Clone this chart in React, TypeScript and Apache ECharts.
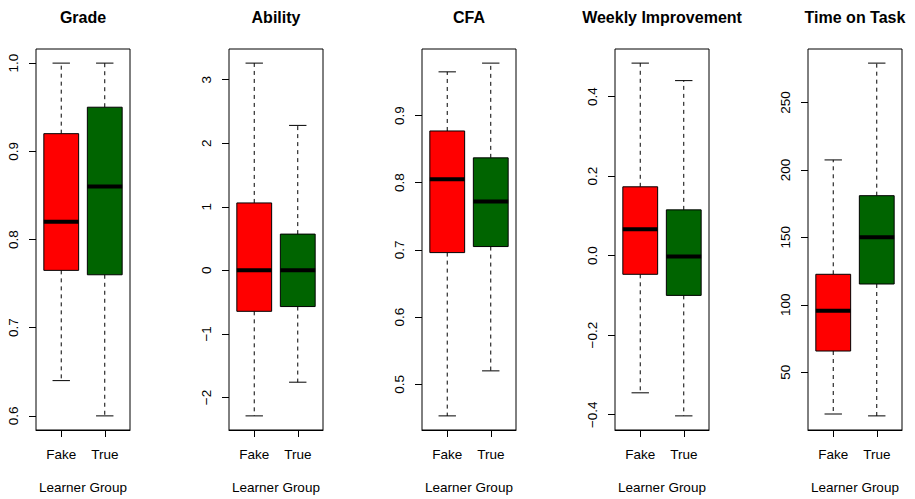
import React, { useEffect, useRef } from 'react';
import * as echarts from 'echarts';

const categories = ['Fake', 'True'];
const panelTitles = ['Grade', 'Ability', 'CFA', 'Weekly Improvement', 'Time on Task'];
const xAxisName = 'Learner Group';

// Five-number summaries: [lower whisker, Q1, median, Q3, upper whisker]
const gradeFake = [0.64, 0.765, 0.82, 0.92, 1.0];
const gradeTrue = [0.6, 0.76, 0.86, 0.95, 1.0];
const abilityFake = [-2.29, -0.645, 0.0, 1.06, 3.26];
const abilityTrue = [-1.76, -0.57, 0.0, 0.57, 2.28];
const cfaFake = [0.453, 0.696, 0.805, 0.877, 0.965];
const cfaTrue = [0.52, 0.705, 0.772, 0.837, 0.978];
const weeklyFake = [-0.345, -0.047, 0.066, 0.173, 0.484];
const weeklyTrue = [-0.403, -0.1, -0.002, 0.115, 0.44];
const timeFake = [19, 65.7, 95.6, 122.6, 207.4];
const timeTrue = [17.6, 115.4, 150, 180.9, 279.2];

// Y tick values and labels
const gradeTicks = [0.6, 0.7, 0.8, 0.9, 1.0];
const gradeTickLabels = ['0.6', '0.7', '0.8', '0.9', '1.0'];
const abilityTicks = [-2, -1, 0, 1, 2, 3];
const abilityTickLabels = ['\u22122', '\u22121', '0', '1', '2', '3'];
const cfaTicks = [0.5, 0.6, 0.7, 0.8, 0.9];
const cfaTickLabels = ['0.5', '0.6', '0.7', '0.8', '0.9'];
const weeklyTicks = [-0.4, -0.2, 0.0, 0.2, 0.4];
const weeklyTickLabels = ['\u22120.4', '\u22120.2', '0.0', '0.2', '0.4'];
const timeTicks = [50, 100, 150, 200, 250];
const timeTickLabels = ['50', '100', '150', '200', '250'];

const panelStats = [
  [gradeFake, gradeTrue],
  [abilityFake, abilityTrue],
  [cfaFake, cfaTrue],
  [weeklyFake, weeklyTrue],
  [timeFake, timeTrue],
];
const panelTicks = [gradeTicks, abilityTicks, cfaTicks, weeklyTicks, timeTicks];
const panelTickLabels = [gradeTickLabels, abilityTickLabels, cfaTickLabels, weeklyTickLabels, timeTickLabels];

// Layout / style
const fills = ['#FF0000', '#006400'];
const gridLefts = [36, 229, 422, 615, 808];
const gridWidth = 94;
const gridTop = 49;
const gridHeight = 384;
const boxWidth = 0.8;
const stapleRatio = 0.5;
const FONT = '"Liberation Sans", Arial, Helvetica, sans-serif';
const AXIS_FONT_SIZE = 13.5;

export default function App() {
  const ref = useRef<HTMLDivElement>(null);

  useEffect(() => {
    if (!ref.current) return;
    const chart = echarts.init(ref.current, null, { renderer: 'svg' });

    const grids: any[] = [];
    const xAxes: any[] = [];
    const yAxes: any[] = [];
    const series: any[] = [];
    const graphics: any[] = [];

    panelStats.forEach((stats, i) => {
      grids.push({
        left: gridLefts[i],
        top: gridTop,
        width: gridWidth,
        height: gridHeight,
        show: true,
        borderColor: '#000',
        borderWidth: 1,
        backgroundColor: 'transparent',
        containLabel: false,
      });

      const catPos = categories.map((_, j) => j + 1);
      xAxes.push({
        type: 'value',
        gridIndex: i,
        min: 0.42,
        max: 2.58,
        axisLine: { show: true, onZero: false, lineStyle: { color: '#000', width: 1 } },
        splitLine: { show: false },
        axisTick: {
          show: true,
          customValues: catPos,
          length: 7,
          inside: false,
          lineStyle: { color: '#000', width: 1 },
        },
        axisLabel: {
          show: true,
          customValues: catPos,
          formatter: (v: number) => categories[Math.round(v) - 1] ?? '',
          margin: 17,
          color: '#000',
          fontSize: AXIS_FONT_SIZE,
          fontFamily: FONT,
        },
        name: xAxisName,
        nameLocation: 'middle',
        nameGap: 50,
        nameTextStyle: { color: '#000', fontSize: AXIS_FONT_SIZE, fontFamily: FONT },
      });

      const all = stats.flat();
      const dmin = Math.min(...all);
      const dmax = Math.max(...all);
      const ext = (dmax - dmin) * 0.04;
      const ticks = panelTicks[i];
      const labels = panelTickLabels[i];
      yAxes.push({
        type: 'value',
        gridIndex: i,
        min: dmin - ext,
        max: dmax + ext,
        axisLine: { show: false, onZero: false },
        splitLine: { show: false },
        axisTick: {
          show: true,
          customValues: ticks,
          length: 7,
          inside: false,
          lineStyle: { color: '#000', width: 1 },
        },
        axisLabel: {
          show: true,
          customValues: ticks,
          rotate: 90,
          formatter: (v: number) => {
            const k = ticks.findIndex((t) => Math.abs(t - v) < 1e-9);
            return k >= 0 ? labels[k] : '';
          },
          margin: 16,
          color: '#000',
          fontSize: AXIS_FONT_SIZE,
          fontFamily: FONT,
        },
      });

      series.push({
        type: 'custom',
        xAxisIndex: i,
        yAxisIndex: i,
        clip: false,
        encode: { x: 0, y: [1, 2, 3, 4, 5] },
        data: stats.map((s, j) => [j + 1, ...s]),
        renderItem: (params: any, api: any) => {
          const x = api.value(0);
          const vMin = api.value(1);
          const q1 = api.value(2);
          const med = api.value(3);
          const q3 = api.value(4);
          const vMax = api.value(5);
          const [cx, pMin] = api.coord([x, vMin]);
          const pQ1 = api.coord([x, q1])[1];
          const pMed = api.coord([x, med])[1];
          const pQ3 = api.coord([x, q3])[1];
          const pMax = api.coord([x, vMax])[1];
          const halfW = api.size([boxWidth, 0])[0] / 2;
          const sHalf = halfW * stapleRatio;
          const color = fills[params.dataIndex % fills.length];
          const dashed = { stroke: '#000', lineWidth: 1, lineDash: [4, 4] };
          const solid = { stroke: '#000', lineWidth: 1 };
          return {
            type: 'group',
            children: [
              { type: 'line', shape: { x1: cx, y1: pQ3, x2: cx, y2: pMax }, style: dashed },
              { type: 'line', shape: { x1: cx, y1: pQ1, x2: cx, y2: pMin }, style: dashed },
              { type: 'line', shape: { x1: cx - sHalf, y1: pMax, x2: cx + sHalf, y2: pMax }, style: solid },
              { type: 'line', shape: { x1: cx - sHalf, y1: pMin, x2: cx + sHalf, y2: pMin }, style: solid },
              {
                type: 'rect',
                shape: { x: cx - halfW, y: pQ3, width: 2 * halfW, height: pQ1 - pQ3 },
                style: { fill: color, stroke: '#000', lineWidth: 1 },
              },
              {
                type: 'line',
                shape: { x1: cx - halfW, y1: pMed, x2: cx + halfW, y2: pMed },
                style: { stroke: '#000', lineWidth: 4 },
              },
            ],
          };
        },
      });

      graphics.push({
        type: 'text',
        x: gridLefts[i] + gridWidth / 2,
        y: 17,
        style: {
          text: panelTitles[i],
          textAlign: 'center',
          textVerticalAlign: 'middle',
          fill: '#000',
          font: `bold 16px ${FONT}`,
        },
      });
    });

    chart.setOption({
      animation: false,
      backgroundColor: '#fff',
      grid: grids,
      xAxis: xAxes,
      yAxis: yAxes,
      series,
      graphic: graphics,
    });

    return () => chart.dispose();
  }, []);

  return (
    <div
      ref={ref}
      style={{ position: 'fixed', left: 0, top: 0, width: 915, height: 499, background: '#fff' }}
    />
  );
}
